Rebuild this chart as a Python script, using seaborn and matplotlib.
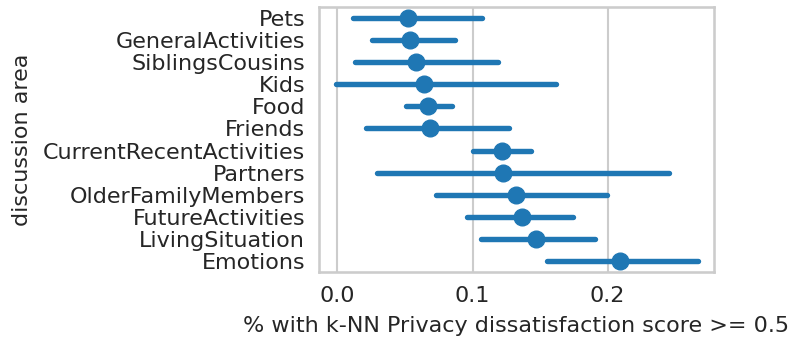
import matplotlib
matplotlib.use("Agg")
import matplotlib.pyplot as plt
import seaborn as sns
import pandas as pd

# Per-area share with a dissatisfaction score >= 0.5: point estimate and interval bounds
areas = ["Pets", "GeneralActivities", "SiblingsCousins", "Kids", "Food", "Friends",
         "CurrentRecentActivities", "Partners", "OlderFamilyMembers",
         "FutureActivities", "LivingSituation", "Emotions"]
estimate = [0.0523, 0.0541, 0.0585, 0.0639, 0.0674, 0.0684,
            0.1215, 0.1222, 0.1323, 0.1363, 0.1471, 0.2089]
ci_low = [0.0116, 0.0259, 0.0133, -0.0013, 0.0506, 0.0215,
          0.1004, 0.0296, 0.0728, 0.0960, 0.1062, 0.1548]
ci_high = [0.1067, 0.0871, 0.1190, 0.1617, 0.0849, 0.1269,
           0.1434, 0.2454, 0.1993, 0.1741, 0.1908, 0.2671]
xticks = [0.0, 0.1, 0.2]

# Long table: median of (low, est, high) gives the estimate, full range gives the interval
rows = []
for a, lo, est, hi in zip(areas, ci_low, estimate, ci_high):
    for v in (lo, est, hi):
        rows.append({"discussion area": a, "share": v})
df = pd.DataFrame(rows)

sns.set_theme(style="whitegrid", context="talk")
fig, ax = plt.subplots(figsize=(7.89, 3.39), dpi=100)
fig.subplots_adjust(left=319 / 789, right=714 / 789, top=1 - 7 / 339, bottom=1 - 272 / 339)

sns.pointplot(data=df, x="share", y="discussion area", order=areas,
              estimator="median", errorbar=("pi", 100),
              color="#1f77b4", linestyle="none", markersize=12,
              markeredgewidth=1,
              err_kws={"linewidth": 3.9, "solid_capstyle": "round"}, ax=ax)

ax.set_xlim(-0.0136, 0.2787)
ax.set_xticks(xticks)
ax.set_xticklabels([f"{t:.1f}" for t in xticks])
ax.set_xlabel("% with k-NN Privacy dissatisfaction score >= 0.5", fontsize=16, labelpad=7)
ax.set_ylabel("discussion area", fontsize=16, labelpad=8)
ax.tick_params(axis="both", length=0, labelsize=16)
ax.tick_params(axis="y", pad=10)
ax.tick_params(axis="x", pad=10)
ax.grid(axis="y", visible=False)

fig.savefig("out.png", dpi=100)
